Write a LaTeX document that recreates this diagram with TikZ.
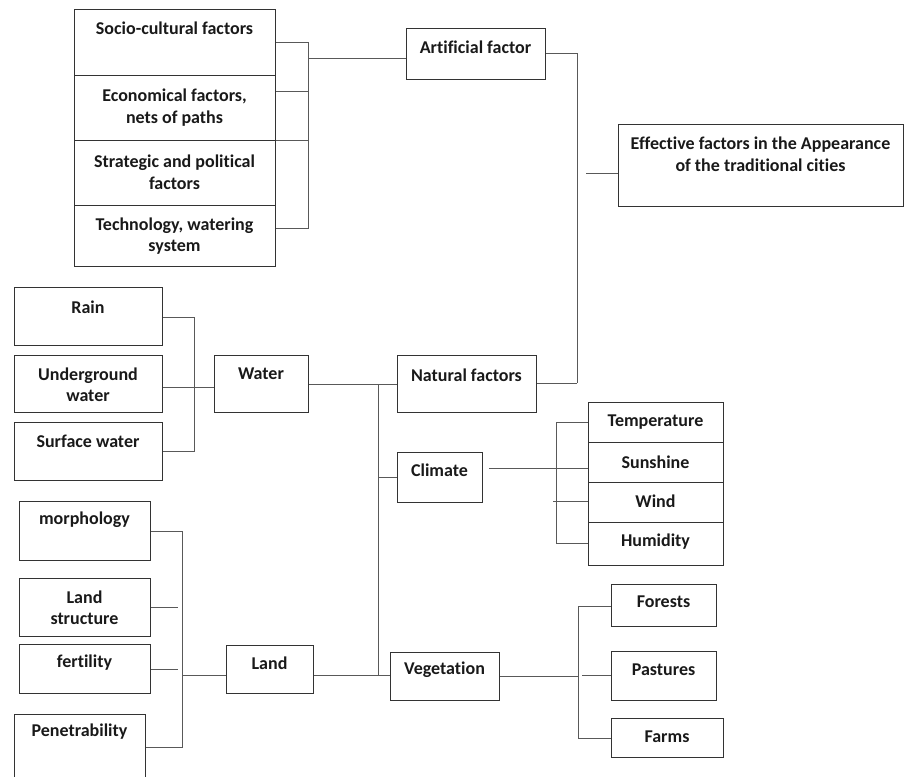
\documentclass[tikz,border=0pt]{standalone}
\usepackage{fontspec}
\setmainfont[Ligatures={NoCommon}]{Carlito}
\usetikzlibrary{calc}
\tikzset{
  box/.style={draw=black!80, line width=0.9pt, rectangle, inner sep=0pt, anchor=north west},
  txt/.style={font=\bfseries\fontsize{18}{21.5}\selectfont, align=center, inner sep=0pt, text=black!90},
  con/.style={draw=black!65, line width=0.9pt},
}
% \bx{name}{x1}{y1}{x2}{y2}{text y}{text}
\newcommand\bx[7]{%
  \node[box, minimum width={(#4-#2)*1pt}, minimum height={(#5-#3)*1pt}] (#1) at (#2,#3) {};
  \node[txt] (#1-t) at ({(#2+#4)/2},#6) {#7};}
\begin{document}
\begin{tikzpicture}[x=1pt,y=-1pt]
\useasboundingbox (0,0) rectangle (904,776);
\clip (0,0) rectangle (904,776);
% artificial branch
\bx{soc}{74}{9}{275}{75}{28}{Socio-cultural factors}
\bx{eco}{74}{75}{275}{140}{107.5}{Economical factors,\\nets of paths}
\bx{str}{74}{140}{275}{205}{172}{Strategic and political\\factors}
\bx{tec}{74}{205}{275}{266}{236}{Technology, watering\\system}
\bx{art}{406}{28}{545}{79}{47}{Artificial factor}
\bx{eff}{618}{124}{903}{206}{154}{Effective factors in the Appearance\\of the traditional cities}
\coordinate (asp) at (308,0);
\draw[con] (soc.east |- 0,42) -- (asp |- 0,42)
  (eco.east |- 0,91) -- (asp |- 0,91)
  (str.north east) -- (str.north east -| asp)
  (tec.east |- 0,228) -- (asp |- 0,228) -- (asp |- 0,42);
\draw[con] (art.west |- 0,58) -- (asp |- 0,58);
\coordinate (rsp) at (577,0);
\draw[con] (art.east |- 0,53) -- (rsp |- 0,53) -- (rsp |- 0,383) coordinate (r2);
\coordinate (effstub) at (586,173);
\draw[con] (effstub) -- (effstub -| eff.west);
% water
\bx{rain}{14}{287}{162}{345}{307}{Rain}
\bx{und}{14}{355}{162}{412}{384.5}{Underground\\water}
\bx{sur}{14}{422}{162}{480}{441}{Surface water}
\bx{wat}{214}{355}{308}{412}{374}{Water}
\bx{nat}{397}{355}{536}{412}{375}{Natural factors}
\draw[con] (r2) -- (r2 -| nat.east);
\coordinate (wsp) at (194,0);
\draw[con] (rain.east |- 0,317) -- (wsp |- 0,317)
  (sur.east |- 0,451) -- (wsp |- 0,451) -- (wsp |- 0,317)
  (und.east |- 0,387) -- (wat.west |- 0,387);
\coordinate (tr) at (378,0);
\draw[con] (wat.east |- 0,384) -- (nat.west |- 0,384);
% climate
\bx{cli}{397}{452}{482}{502}{470}{Climate}
\bx{tem}{588}{402}{723}{442}{422}{Temperature}
\bx{sun}{588}{442}{723}{482}{462}{Sunshine}
\bx{win}{588}{482}{723}{522}{501}{Wind}
\bx{hum}{588}{522}{723}{565}{542}{Humidity}
\coordinate (csp) at (556,0);
\draw[con] ([xshift=6pt]cli.east |- 0,468) -- (sun.west |- 0,468);
\draw[con] (tem.west |- 0,422) -- (csp |- 0,422)
  (hum.west |- 0,543) -- (csp |- 0,543) -- (csp |- 0,422)
  (win.west |- 0,501) -- ([xshift=-3pt]csp |- 0,501);
% vegetation
\bx{veg}{390}{652}{499}{700}{670}{Vegetation}
\bx{for}{611}{584}{716}{626}{602}{Forests}
\bx{pas}{611}{651}{716}{700}{670}{Pastures}
\bx{far}{611}{718}{723}{757}{737}{Farms}
\coordinate (vsp) at (578,0);
\draw[con] (veg.east |- 0,676) -- (vsp |- 0,676);
\draw[con] (for.west |- 0,606) -- (vsp |- 0,606)
  (far.west |- 0,738) -- (vsp |- 0,738) -- (vsp |- 0,606)
  (pas.west |- 0,675) -- ([xshift=4pt]vsp |- 0,675);
% land
\bx{mor}{19}{501}{150}{560}{520}{morphology}
\bx{lst}{19}{578}{150}{636}{607.5}{Land\\structure}
\bx{fer}{19}{644}{150}{693}{663}{fertility}
\bx{pen}{14}{714}{145}{790}{732}{Penetrability}
\bx{lan}{226}{645}{313}{693}{663}{Land}
\coordinate (lsp) at (182,0);
\draw[con] (mor.east |- 0,531) -- (lsp |- 0,531)
  (pen.east |- 0,747) -- (lsp |- 0,747) -- (lsp |- 0,531)
  (lst.east |- 0,607) -- ([xshift=-4pt]lsp |- 0,607)
  (fer.east |- 0,669) -- ([xshift=-4pt]lsp |- 0,669)
  (lan.west |- 0,675) -- (lsp |- 0,675);
% trunk
\draw[con] (lan.east |- 0,675) -- (veg.west |- 0,675)
  (tr |- 0,384) -- (tr |- 0,675)
  (cli.west |- 0,477) -- (tr |- 0,477);
\end{tikzpicture}
\end{document}
